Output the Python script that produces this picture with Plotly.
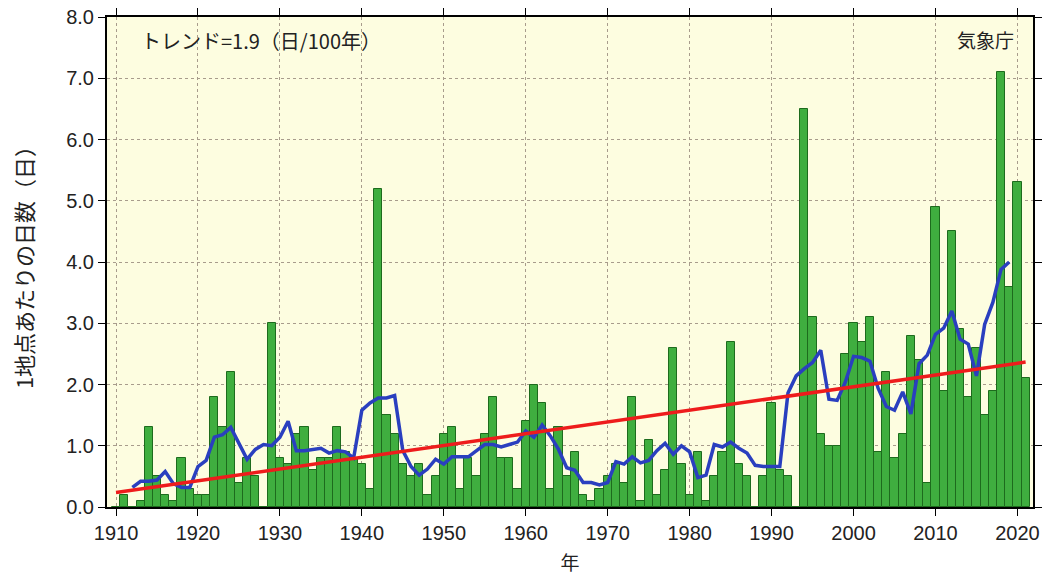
import numpy as np
import pandas as pd
import plotly.graph_objects as go

# Annual number of days per station, 1910-2021
years = list(range(1910, 2022))
days = [
    0.0, 0.2, 0.0, 0.1, 1.3, 0.5, 0.2, 0.1, 0.8, 0.3,   # 1910-1919
    0.2, 0.2, 1.8, 1.3, 2.2, 0.4, 0.8, 0.5, 0.0, 3.0,   # 1920-1929
    0.8, 0.7, 1.2, 1.3, 0.6, 0.8, 0.8, 1.3, 0.9, 0.8,   # 1930-1939
    0.7, 0.3, 5.2, 1.5, 1.2, 0.7, 0.5, 0.7, 0.2, 0.5,   # 1940-1949
    1.2, 1.3, 0.3, 0.8, 0.5, 1.2, 1.8, 0.8, 0.8, 0.3,   # 1950-1959
    1.4, 2.0, 1.7, 0.3, 1.3, 0.5, 0.9, 0.2, 0.1, 0.3,   # 1960-1969
    0.5, 0.7, 0.4, 1.8, 0.1, 1.1, 0.2, 0.6, 2.6, 0.7,   # 1970-1979
    0.2, 0.9, 0.1, 0.5, 0.9, 2.7, 0.7, 0.5, 0.0, 0.5,   # 1980-1989
    1.7, 0.6, 0.5, 0.0, 6.5, 3.1, 1.2, 1.0, 1.0, 2.5,   # 1990-1999
    3.0, 2.7, 3.1, 0.9, 2.2, 0.8, 1.2, 2.8, 2.4, 0.4,   # 2000-2009
    4.9, 1.9, 4.5, 2.9, 1.8, 2.6, 1.5, 1.9, 7.1, 3.6,   # 2010-2019
    5.3, 2.1,                                           # 2020-2021
]

x_ticks = list(range(1910, 2021, 10))
y_ticks = [0, 1, 2, 3, 4, 5, 6, 7, 8]

series = pd.Series(days, index=years)
# 5-year centred running mean
running = series.rolling(5, center=True).mean().dropna()
# Linear trend fitted over the whole period
slope, intercept = np.polyfit(years, days, 1)
trend_x = [years[0], years[-1]]
trend_y = [slope * yr + intercept for yr in trend_x]

num_font = "Liberation Sans Narrow, Liberation Sans, Arial, sans-serif"
jp_font = "Noto Sans CJK JP, sans-serif"
text_color = "#222222"

fig = go.Figure()
fig.add_trace(go.Bar(
    x=years, y=days, width=1.0,
    marker=dict(color="#3fae3f", line=dict(color="#1d6b1d", width=1)),
    hoverinfo="x+y",
))
fig.add_trace(go.Scatter(
    x=list(running.index), y=list(running.values), mode="lines",
    line=dict(color="#2a3fbf", width=3.5),
))
fig.add_trace(go.Scatter(
    x=trend_x, y=trend_y, mode="lines",
    line=dict(color="#ee1c1c", width=3.5),
))

axis_common = dict(
    showline=True, linecolor="black", linewidth=2, mirror="ticks",
    ticks="outside", ticklen=7, tickcolor="black", tickwidth=1,
    showgrid=True, gridcolor="#a89c8c", griddash="dot", gridwidth=1,
    zeroline=False, automargin=False,
    tickfont=dict(family=num_font, size=20, color=text_color),
)

fig.update_layout(
    width=1046, height=575,
    margin=dict(l=107, r=13, t=17, b=68),
    paper_bgcolor="white",
    plot_bgcolor="#fdfde0",
    showlegend=False,
    bargap=0,
    xaxis=dict(
        range=[1908.9, 2021.9], tickvals=x_ticks,
        title=dict(text="年", font=dict(family=jp_font, size=19, color=text_color), standoff=18),
        **axis_common,
    ),
    yaxis=dict(
        range=[0, 8], tickvals=y_ticks, tickformat=".1f",
        title=dict(text="1地点あたりの日数（日）", font=dict(family=jp_font, size=22, color=text_color), standoff=26),
        **axis_common,
    ),
    annotations=[
        dict(text="トレンド=1.9（日/100年）", xref="paper", yref="paper",
             x=0.035, y=0.985, xanchor="left", yanchor="top", showarrow=False,
             font=dict(family=jp_font, size=20, color=text_color)),
        dict(text="気象庁", xref="paper", yref="paper",
             x=0.982, y=0.985, xanchor="right", yanchor="top", showarrow=False,
             font=dict(family=jp_font, size=19, color=text_color)),
    ],
)

fig.write_html("out.html")
